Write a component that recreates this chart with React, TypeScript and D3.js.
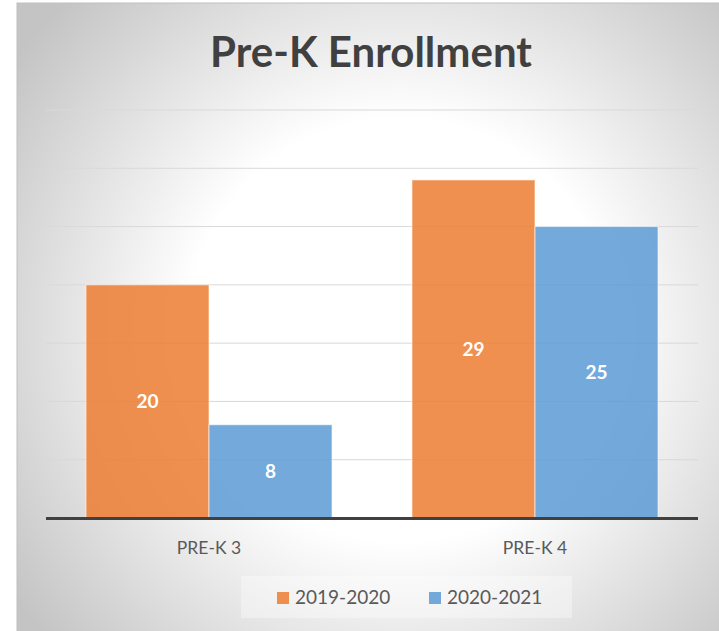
import { useEffect, useRef } from 'react'
import * as d3 from 'd3'

const categories = ['PRE-K 3', 'PRE-K 4']
const seriesNames = ['2019-2020', '2020-2021']
const values2019 = [20, 29]
const values2020 = [8, 25]
const yTicks = [0, 5, 10, 15, 20, 25, 30, 35]
const colors = ['#ED7D31', '#5B9BD5']

const W = 719
const H = 631
const FONT = 'Lato, Carlito, Calibri, sans-serif'

export default function App() {
  const svgRef = useRef<SVGSVGElement>(null)

  useEffect(() => {
    if (!svgRef.current) return
    const svg = d3.select(svgRef.current)
    svg.selectAll('*').remove()

    const frame = { x: 17, y: 3, w: W - 17 + 2, h: H - 3 + 2 }
    const plot = { left: 46, right: 698, top: 110, bottom: 518 }

    // background gradient
    const defs = svg.append('defs')
    const grad = defs.append('radialGradient')
      .attr('id', 'bg')
      .attr('gradientUnits', 'userSpaceOnUse')
      .attr('cx', 400).attr('cy', 330).attr('r', 470)
    grad.append('stop').attr('offset', '0%').attr('stop-color', '#ffffff')
    grad.append('stop').attr('offset', '45%').attr('stop-color', '#ffffff')
    grad.append('stop').attr('offset', '100%').attr('stop-color', '#c4c4c4')

    svg.append('rect')
      .attr('x', frame.x).attr('y', frame.y)
      .attr('width', frame.w).attr('height', frame.h)
      .attr('fill', 'url(#bg)')
      .attr('stroke', '#bfbfbf')
      .attr('stroke-width', 1)

    const y = d3.scaleLinear().domain([0, 35]).range([plot.bottom, plot.top])
    const x0 = d3.scaleBand<string>().domain(categories).range([plot.left, plot.right])
    const x1 = d3.scaleBand<string>().domain(seriesNames).range([0, x0.bandwidth()]).paddingOuter(0.325)

    // gridlines
    svg.append('g')
      .selectAll('line')
      .data(yTicks.filter(t => t > 0))
      .enter().append('line')
      .attr('x1', plot.left).attr('x2', plot.right)
      .attr('y1', d => y(d)).attr('y2', d => y(d))
      .attr('stroke', '#d9d9d9')
      .attr('stroke-width', 1)

    // bars
    const seriesData = [values2019, values2020]
    categories.forEach((cat, ci) => {
      seriesNames.forEach((s, si) => {
        const v = seriesData[si][ci]
        const bx = (x0(cat) ?? 0) + (x1(s) ?? 0)
        const bw = x1.bandwidth()
        svg.append('rect')
          .attr('x', bx).attr('y', y(v))
          .attr('width', bw).attr('height', y(0) - y(v))
          .attr('fill', colors[si])
          .attr('fill-opacity', 0.85)
          .attr('stroke', '#ffffff')
          .attr('stroke-opacity', 0.6)
          .attr('stroke-width', 1)
        svg.append('text')
          .attr('x', bx + bw / 2)
          .attr('y', (y(v) + y(0)) / 2)
          .attr('dy', '0.36em')
          .attr('text-anchor', 'middle')
          .attr('font-family', FONT)
          .attr('font-size', '19px')
          .attr('font-weight', 'bold')
          .attr('fill', '#ffffff')
          .text(String(v))
      })
    })

    // baseline
    svg.append('line')
      .attr('x1', plot.left).attr('x2', plot.right)
      .attr('y1', y(0) + 0.5).attr('y2', y(0) + 0.5)
      .attr('stroke', '#404040')
      .attr('stroke-width', 3)

    // category labels
    svg.append('g')
      .selectAll('text')
      .data(categories)
      .enter().append('text')
      .attr('x', d => (x0(d) ?? 0) + x0.bandwidth() / 2)
      .attr('y', 554)
      .attr('text-anchor', 'middle')
      .attr('font-family', FONT)
      .attr('font-size', '17.5px')
      .attr('fill', '#595959')
      .text(d => d)

    // title
    svg.append('text')
      .attr('x', 371).attr('y', 67)
      .attr('text-anchor', 'middle')
      .attr('font-family', FONT)
      .attr('font-size', '42px')
      .attr('font-weight', 'bold')
      .attr('fill', '#404040')
      .text('Pre-K Enrollment')

    // legend
    const lg = svg.append('g')
    lg.append('rect')
      .attr('x', 241).attr('y', 576)
      .attr('width', 331).attr('height', 42)
      .attr('fill', '#ffffff').attr('fill-opacity', 0.35)
    const legendX = [277, 429]
    seriesNames.forEach((s, i) => {
      lg.append('rect')
        .attr('x', legendX[i]).attr('y', 592)
        .attr('width', 12).attr('height', 12)
        .attr('fill', colors[i]).attr('fill-opacity', 0.85)
      lg.append('text')
        .attr('x', legendX[i] + 18).attr('y', 604)
        .attr('font-family', FONT)
        .attr('font-size', '19px')
        .attr('fill', '#595959')
        .text(s)
    })
  }, [])

  return (
    <svg
      ref={svgRef}
      width={W}
      height={H}
      style={{ position: 'absolute', left: 0, top: 0, display: 'block' }}
    />
  )
}
